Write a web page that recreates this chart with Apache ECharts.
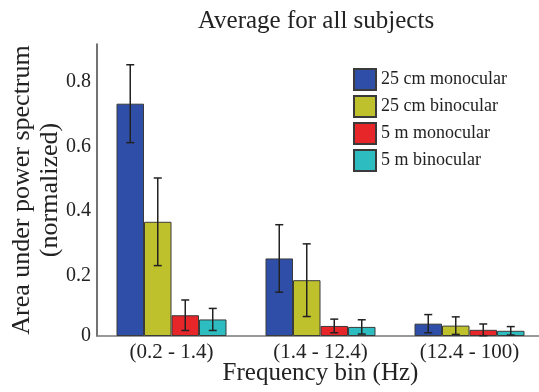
<!DOCTYPE html>
<html>
<head>
<meta charset="utf-8">
<script src="https://cdn.jsdelivr.net/npm/echarts@6/dist/echarts.min.js"></script>
<style>
html,body{margin:0;padding:0;background:#fff;}
#chart{width:539px;height:392px;}
</style>
</head>
<body>
<div id="chart"></div>
<script>
// ---- data ----
var categories = ['(0.2 - 1.4)', '(1.4 - 12.4)', '(12.4 - 100)'];
var seriesNames = ['25 cm monocular', '25 cm binocular', '5 m monocular', '5 m binocular'];
var mono25 = [0.716, 0.239, 0.038];
var bino25 = [0.352, 0.172, 0.032];
var mono5  = [0.064, 0.031, 0.019];
var bino5  = [0.051, 0.028, 0.016];
var errMono25 = [0.120, 0.104, 0.028];
var errBino25 = [0.135, 0.112, 0.027];
var errMono5  = [0.047, 0.021, 0.018];
var errBino5  = [0.034, 0.022, 0.013];
var yTicks = [0, 0.2, 0.4, 0.6, 0.8];

var values = [mono25, bino25, mono5, bino5];
var errors = [errMono25, errBino25, errMono5, errBino5];
var colors = ['#2e4ea7', '#bec12c', '#e7262a', '#2dbdc0'];
var FONT = "'Liberation Serif', 'Times New Roman', serif";
var BAR_W = 27.5;

var chart = echarts.init(document.getElementById('chart'), null, {renderer: 'canvas'});

var series = [];
values.forEach(function (vals, i) {
  series.push({
    name: seriesNames[i],
    type: 'bar',
    data: vals,
    barWidth: BAR_W,
    barGap: '0%',
    itemStyle: {color: colors[i], borderColor: '#3a3a3a', borderWidth: 1, borderRadius: 0},
    emphasis: {disabled: true},
    z: 2
  });
});
values.forEach(function (vals, i) {
  var d = vals.map(function (v, k) { return [k, v - errors[i][k], v + errors[i][k]]; });
  series.push({
    name: 'err' + i,
    type: 'custom',
    data: d,
    z: 5,
    silent: true,
    renderItem: function (params, api) {
      var lo = api.coord([api.value(0), api.value(1)]);
      var hi = api.coord([api.value(0), api.value(2)]);
      var x = lo[0] + (i - 1.5) * BAR_W;
      var cap = 4;
      var st = {stroke: '#222', lineWidth: 1.5};
      return {
        type: 'group',
        children: [
          {type: 'line', shape: {x1: x, y1: lo[1], x2: x, y2: hi[1]}, style: st},
          {type: 'line', shape: {x1: x - cap, y1: lo[1], x2: x + cap, y2: lo[1]}, style: st},
          {type: 'line', shape: {x1: x - cap, y1: hi[1], x2: x + cap, y2: hi[1]}, style: st}
        ]
      };
    }
  });
});

var option = {
  backgroundColor: '#ffffff',
  animation: false,
  title: {
    text: 'Average for all subjects',
    left: 311,
    top: 4,
    textAlign: 'center',
    textStyle: {fontFamily: FONT, fontSize: 25, fontWeight: 'normal', color: '#222'}
  },
  legend: {
    data: seriesNames,
    orient: 'vertical',
    left: 348,
    top: 63,
    itemWidth: 22,
    itemHeight: 21,
    itemGap: 4,
    icon: 'rect',
    selectedMode: false,
    textStyle: {fontFamily: FONT, fontSize: 18, color: '#222'}
  },
  grid: {left: 97, right: -5, top: 44, bottom: 56, containLabel: false, outerBoundsMode: 'none'},
  xAxis: {
    type: 'category',
    data: categories,
    axisLine: {lineStyle: {color: '#777', width: 1.5}},
    axisTick: {show: false},
    axisLabel: {fontFamily: FONT, fontSize: 21, color: '#222', margin: 6, interval: 0},
    name: 'Frequency bin (Hz)',
    nameLocation: 'middle',
    nameGap: 25,
    nameMoveOverlap: false,
    nameTextStyle: {fontFamily: FONT, fontSize: 25, color: '#222'}
  },
  yAxis: {
    type: 'value',
    min: 0,
    max: 0.9,
    interval: 0.2,
    splitLine: {show: false},
    axisLine: {show: true, lineStyle: {color: '#444', width: 1.5}},
    axisTick: {show: false},
    axisLabel: {
      fontFamily: FONT, fontSize: 20, color: '#222', margin: 6,
      formatter: function (v) {
        var r = Math.round(v * 10) / 10;
        if (yTicks.indexOf(r) < 0) return '';
        return r === 0 ? '{z|0}' : '{a|' + r + '}';
      },
      rich: {
        a: {fontFamily: FONT, fontSize: 20, color: '#222', padding: [10, 0, 0, 0]},
        z: {fontFamily: FONT, fontSize: 20, color: '#222'}
      },
      showMaxLabel: false
    },
    name: 'Area under power spectrum\n(normalized)',
    nameLocation: 'middle',
    nameRotate: 90,
    nameGap: 33,
    nameMoveOverlap: false,
    nameTextStyle: {fontFamily: FONT, fontSize: 26, color: '#222', lineHeight: 28}
  },
  series: series
};
chart.setOption(option);
</script>
</body>
</html>
